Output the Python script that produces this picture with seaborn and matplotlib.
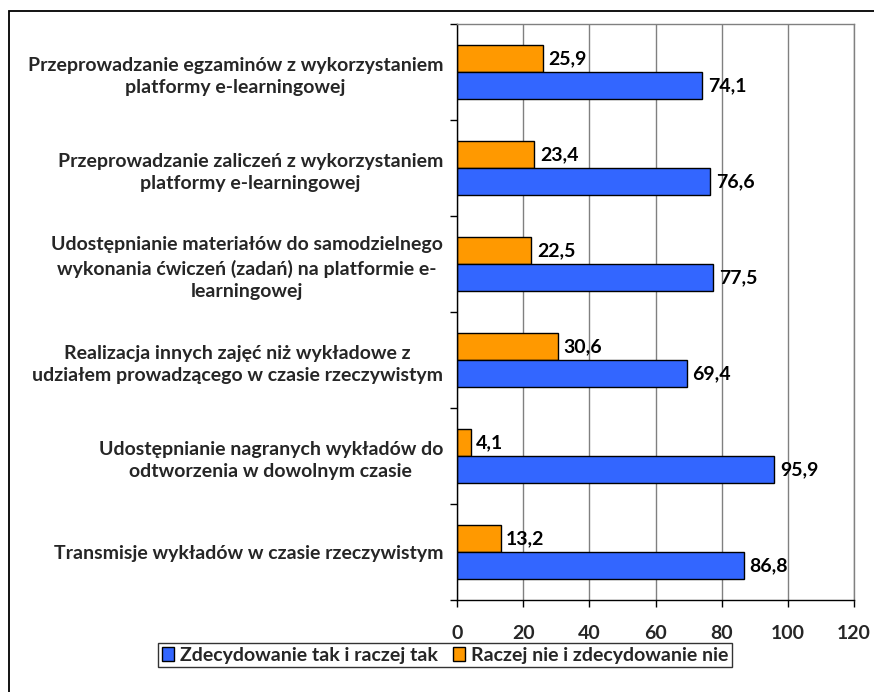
import matplotlib
matplotlib.use("Agg")
import matplotlib.pyplot as plt
import seaborn as sns
import pandas as pd
from matplotlib.patches import Rectangle, Patch

categories = [
    "Przeprowadzanie egzaminów z wykorzystaniem\nplatformy e-learningowej",
    "Przeprowadzanie zaliczeń z wykorzystaniem\nplatformy e-learningowej",
    "Udostępnianie materiałów do samodzielnego\nwykonania ćwiczeń (zadań) na platformie e-\nlearningowej",
    "Realizacja innych zajęć niż wykładowe z\nudziałem prowadzącego w czasie rzeczywistym",
    "Udostępnianie nagranych wykładów do\nodtworzenia w dowolnym czasie",
    "Transmisje wykładów w czasie rzeczywistym",
]
series_names = ["Zdecydowanie tak i raczej tak", "Raczej nie i zdecydowanie nie"]
yes_values = [74.1, 76.6, 77.5, 69.4, 95.9, 86.8]
no_values = [25.9, 23.4, 22.5, 30.6, 4.1, 13.2]
x_ticks = [0, 20, 40, 60, 80, 100, 120]

colors = {series_names[0]: "#3366FF", series_names[1]: "#FF9900"}

sns.set_theme(style="white")
plt.rcParams["font.family"] = ["Lato", "DejaVu Sans"]
plt.rcParams["font.weight"] = "bold"

FS = 14

df = pd.DataFrame({
    "cat": categories * 2,
    "series": [series_names[1]] * 6 + [series_names[0]] * 6,
    "value": no_values + yes_values,
})

fig = plt.figure(figsize=(8.74, 6.92), dpi=100)
ax = fig.add_axes([457 / 874, 1 - 600 / 692, (854 - 457) / 874, (600 - 24) / 692])

sns.barplot(data=df, y="cat", x="value", hue="series", order=categories,
            hue_order=[series_names[1], series_names[0]], palette=colors,
            saturation=1, orient="h", width=0.5625, edgecolor="black", linewidth=1.0,
            ax=ax, legend=False)

for cont in ax.containers:
    labels = [f"{b.get_width():.1f}".replace(".", ",") for b in cont]
    ax.bar_label(cont, labels=labels, padding=4, fontsize=FS, fontweight="bold", color="black")

ax.set_xlim(0, 120)
ax.set_ylim(5.5, -0.5)
ax.set_xticks(x_ticks)
ax.set_xticklabels([str(t) for t in x_ticks], fontsize=FS, fontweight="bold")
ax.set_yticks(range(len(categories)))
ax.set_yticklabels(categories, fontsize=FS, fontweight="bold")
for t in ax.get_yticklabels():
    t.set_multialignment("center")
    t.set_linespacing(1.4)
ax.tick_params(axis="y", which="major", length=0, pad=10)
ax.set_yticks([i - 0.5 for i in range(len(categories) + 1)], minor=True)
ax.tick_params(axis="y", which="minor", length=5, width=1, color="black", direction="out", left=True)
ax.tick_params(axis="x", which="major", length=5, width=1, color="black", direction="out", bottom=True, pad=13)
ax.set_xlabel("")
ax.set_ylabel("")
ax.grid(axis="x", color="#808080", linewidth=1)
ax.grid(axis="y", visible=False)
ax.set_axisbelow(True)
for s in ["top", "right"]:
    ax.spines[s].set_color("#808080")
    ax.spines[s].set_linewidth(1)
for s in ["left", "bottom"]:
    ax.spines[s].set_color("black")
    ax.spines[s].set_linewidth(1)

handles = [Patch(facecolor=colors[n], edgecolor="black", linewidth=1) for n in series_names]
leg = fig.legend(handles, series_names, loc="center", bbox_to_anchor=(445 / 874, 1 - 655 / 692),
                 ncol=2, frameon=True, fancybox=False, handlelength=0.6,
                 handleheight=0.7, handletextpad=0.3, columnspacing=0.8, borderpad=0.2,
                 prop={"weight": "bold", "size": FS})
leg.get_frame().set_edgecolor("black")
leg.get_frame().set_linewidth(1)

fig.patches.append(Rectangle((8.5 / 874, -0.2), 1.2, 1.2 - 11 / 692,
                             transform=fig.transFigure, fill=False, edgecolor="black",
                             linewidth=1.3, zorder=10))

fig.savefig("out.png", dpi=100)
